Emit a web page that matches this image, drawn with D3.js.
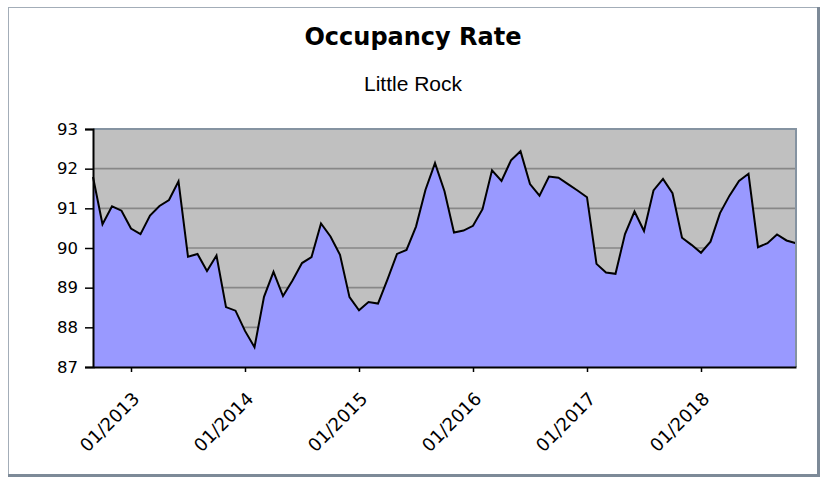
<!DOCTYPE html>
<html>
<head>
<meta charset="utf-8">
<script src="https://cdn.jsdelivr.net/npm/d3@7"></script>
<style>
  body { margin: 0; background: #fff; }
  svg { display: block; }
</style>
</head>
<body>
<script>
//monthly occupancy, 09/2012 .. 11/2018
var months = [
    "09/2012","10/2012","11/2012","12/2012",
    "01/2013","02/2013","03/2013","04/2013","05/2013","06/2013","07/2013","08/2013","09/2013","10/2013","11/2013","12/2013",
    "01/2014","02/2014","03/2014","04/2014","05/2014","06/2014","07/2014","08/2014","09/2014","10/2014","11/2014","12/2014",
    "01/2015","02/2015","03/2015","04/2015","05/2015","06/2015","07/2015","08/2015","09/2015","10/2015","11/2015","12/2015",
    "01/2016","02/2016","03/2016","04/2016","05/2016","06/2016","07/2016","08/2016","09/2016","10/2016","11/2016","12/2016",
    "01/2017","02/2017","03/2017","04/2017","05/2017","06/2017","07/2017","08/2017","09/2017","10/2017","11/2017","12/2017",
    "01/2018","02/2018","03/2018","04/2018","05/2018","06/2018","07/2018","08/2018","09/2018","10/2018","11/2018"
];

var occupancy = [
    91.79, 90.60, 91.05, 90.94,
    90.49, 90.35, 90.82, 91.06, 91.21, 91.68, 89.78, 89.85, 89.42, 89.81, 88.51, 88.42,
    87.91, 87.50, 88.77, 89.40, 88.79, 89.18, 89.62, 89.77, 90.62, 90.29, 89.83, 88.76,
    88.43, 88.64, 88.60, 89.21, 89.85, 89.95, 90.54, 91.47, 92.14, 91.43, 90.39, 90.44,
    90.56, 90.98, 91.96, 91.69, 92.21, 92.44, 91.61, 91.32, 91.80, 91.77, 91.61, 91.45,
    91.28, 89.60, 89.38, 89.35, 90.35, 90.92, 90.43, 91.45, 91.74, 91.38, 90.26, 90.08,
    89.88, 90.16, 90.88, 91.32, 91.69, 91.87, 90.02, 90.12, 90.34, 90.19, 90.12
];

var xTickLabels = ["01/2013","01/2014","01/2015","01/2016","01/2017","01/2018"];
var yTicks = [87, 88, 89, 90, 91, 92, 93];

var title = "Occupancy Rate",
    subtitle = "Little Rock";

var width = 824,
    height = 477;

var margin = {top: 129, left: 93, right: 28, bottom: 110};
var plotW = width - margin.left - margin.right,
    plotH = height - margin.top - margin.bottom;

var svg = d3.select("body")
    .append("svg")
    .attr("width", width)
    .attr("height", height);

//outer chart frame
svg.append("rect")
    .attr("x", 8.5).attr("y", 7.5)
    .attr("width", 809).attr("height", 467)
    .attr("fill", "none")
    .attr("stroke", "#a3adb8")
    .attr("stroke-width", 1);
svg.append("line")
    .attr("x1", 818.5).attr("x2", 818.5).attr("y1", 7).attr("y2", 477)
    .attr("stroke", "#7d8a98").attr("stroke-width", 3);
svg.append("line")
    .attr("x1", 8).attr("x2", 820).attr("y1", 475.5).attr("y2", 475.5)
    .attr("stroke", "#7d8a98").attr("stroke-width", 3);

//titles
svg.append("text")
    .attr("x", 413).attr("y", 45)
    .attr("text-anchor", "middle")
    .style("font-family", "DejaVu Sans")
    .style("font-weight", "bold")
    .style("font-size", "24px")
    .text(title);

svg.append("text")
    .attr("x", 413).attr("y", 91)
    .attr("text-anchor", "middle")
    .style("font-family", "Liberation Sans")
    .style("font-size", "21px")
    .text(subtitle);

var g = svg.append("g")
    .attr("transform", "translate(" + margin.left + "," + margin.top + ")");

var x = d3.scalePoint()
    .domain(months)
    .range([0, plotW])
    .padding(0);

var y = d3.scaleLinear()
    .domain([87, 93])
    .range([plotH, 0]);

//plot background
g.append("rect")
    .attr("width", plotW).attr("height", plotH)
    .attr("fill", "#c0c0c0");

//gridlines
g.selectAll(".grid")
    .data(yTicks.slice(1, -1))
    .enter()
    .append("line")
    .attr("class", "grid")
    .attr("x1", 0).attr("x2", plotW)
    .attr("y1", function(d){ return y(d); })
    .attr("y2", function(d){ return y(d); })
    .attr("stroke", "#878787")
    .attr("stroke-width", 1.6);

var area = d3.area()
    .x(function(d, i){ return x(months[i]); })
    .y0(plotH)
    .y1(function(d){ return y(d); });

var line = d3.line()
    .x(function(d, i){ return x(months[i]); })
    .y(function(d){ return y(d); });

g.append("path")
    .datum(occupancy)
    .attr("d", area)
    .attr("fill", "#9999ff");

g.append("path")
    .datum(occupancy)
    .attr("d", line)
    .attr("fill", "none")
    .attr("stroke", "#000")
    .attr("stroke-width", 2)
    .attr("stroke-linejoin", "miter");

//plot border top/right
g.append("path")
    .attr("d", "M0,0H" + plotW + "V" + plotH)
    .attr("fill", "none")
    .attr("stroke", "#8593a1")
    .attr("stroke-width", 2);

//y axis
var yAxis = g.append("g")
    .call(d3.axisLeft(y).tickValues(yTicks).tickSize(8).tickPadding(7).tickFormat(d3.format("d")));
yAxis.select(".domain").attr("stroke-width", 2);
yAxis.selectAll(".tick line").attr("stroke-width", 1.5);
yAxis.selectAll("text")
    .style("font-family", "DejaVu Sans")
    .style("font-size", "16.5px")
    .attr("fill", "#000");

//x axis
var xAxis = g.append("g")
    .attr("transform", "translate(0," + plotH + ")")
    .call(d3.axisBottom(x).tickValues(xTickLabels).tickSize(5).tickSizeOuter(0));
xAxis.select(".domain").attr("stroke-width", 2);
xAxis.selectAll(".tick line").attr("stroke-width", 1.5);
xAxis.selectAll("text")
    .attr("x", 0).attr("y", 0).attr("dy", 0)
    .attr("text-anchor", "end")
    .attr("transform", "translate(9,33) rotate(-45)")
    .style("font-family", "DejaVu Sans")
    .style("font-size", "18px")
    .attr("fill", "#000");
</script>
</body>
</html>
